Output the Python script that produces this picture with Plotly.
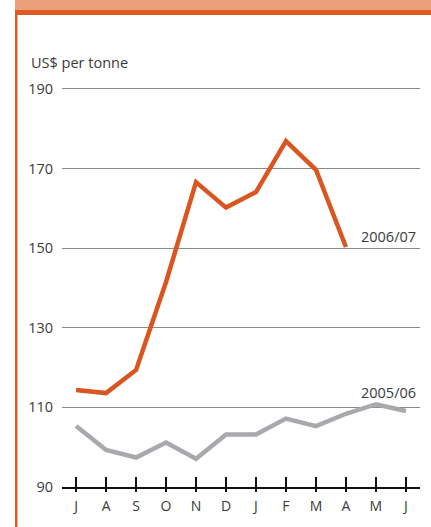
import plotly.graph_objects as go

months = ["J", "A", "S", "O", "N", "D", "J", "F", "M", "A", "M", "J"]
s_2006_07 = [114.4, 113.6, 119.4, 141.5, 166.6, 160.2, 164.1, 176.9, 169.7, 150.3]
s_2005_06 = [105.3, 99.3, 97.4, 101.2, 97.1, 103.2, 103.2, 107.2, 105.3, 108.4, 110.8, 109.1]
y_ticks = [90, 110, 130, 150, 170, 190]

W, H = 431, 527
L, R, T, B = 62, 420, 87, 487   # plot area in px (top includes 2px headroom)

ORANGE = "#DB5520"
GREY = "#A7A9AC"
FONT = "Open Sans"
TXT = "#3a3a3a"

xi_old = list(range(len(s_2005_06)))
xi_new = list(range(len(s_2006_07)))

fig = go.Figure()
fig.add_trace(go.Scatter(x=xi_old, y=s_2005_06, mode="lines",
                         line=dict(color=GREY, width=4.5), hoverinfo="skip"))
fig.add_trace(go.Scatter(x=xi_new, y=s_2006_07, mode="lines",
                         line=dict(color=ORANGE, width=4.5), hoverinfo="skip"))
# invisible trace to activate the overlay axis (inner tick marks)
fig.add_trace(go.Scatter(x=xi_old, y=s_2005_06, xaxis="x2", mode="lines",
                         line=dict(width=0), opacity=0, hoverinfo="skip",
                         showlegend=False))

xr = [-0.47, 11.47]
fig.update_layout(
    width=W, height=H,
    margin=dict(l=0, r=0, t=0, b=0),
    paper_bgcolor="white", plot_bgcolor="white",
    showlegend=False,
    font=dict(family=FONT, size=14, color=TXT),
    xaxis=dict(
        domain=[L / W, R / W], range=xr,
        tickmode="array", tickvals=list(range(12)), ticktext=months,
        ticks="outside", ticklen=3, tickwidth=2, tickcolor="#111111",
        showline=True, linecolor="#111111", linewidth=2,
        showgrid=False, zeroline=False, automargin=False,
        ticklabelstandoff=2,
        tickfont=dict(family=FONT, size=14, color=TXT),
        fixedrange=True,
    ),
    xaxis2=dict(
        overlaying="x", anchor="y", side="bottom", range=xr,
        tickmode="array", tickvals=list(range(12)), showticklabels=False,
        ticks="inside", ticklen=10, tickwidth=2, tickcolor="#111111",
        showline=False, showgrid=False, zeroline=False,
        fixedrange=True,
    ),
    yaxis=dict(
        domain=[(H - B) / H, (H - T) / H], range=[90, 190.5],
        tickmode="array", tickvals=y_ticks,
        showgrid=True, gridcolor="#8a8a8a", gridwidth=1,
        zeroline=False, showline=False, ticks="",
        automargin=False, ticklabelstandoff=8,
        tickfont=dict(family=FONT, size=14.5, color=TXT),
        fixedrange=True,
    ),
    shapes=[
        dict(type="rect", xref="paper", yref="paper",
             x0=15 / W, x1=1.0, y0=(H - 10) / H, y1=1.0,
             fillcolor="#EBA07B", line=dict(width=0), layer="above"),
        dict(type="rect", xref="paper", yref="paper",
             x0=15 / W, x1=1.0, y0=(H - 15) / H, y1=(H - 10) / H,
             fillcolor="#DD5A22", line=dict(width=0), layer="above"),
        dict(type="rect", xref="paper", yref="paper",
             x0=15 / W, x1=17.5 / W, y0=0, y1=(H - 10) / H,
             fillcolor="#DD5A22", line=dict(width=0), layer="above"),
    ],
    annotations=[
        dict(text="US$ per tonne", xref="paper", yref="paper",
             x=29 / W, y=(H - 62) / H, xanchor="left", yanchor="middle",
             showarrow=False, font=dict(family=FONT, size=14.5, color=TXT)),
        dict(text="2006/07", xref="paper", yref="paper",
             x=418 / W, y=(H - 236) / H, xanchor="right", yanchor="middle",
             showarrow=False, font=dict(family=FONT, size=14.5, color=TXT)),
        dict(text="2005/06", xref="paper", yref="paper",
             x=418 / W, y=(H - 392) / H, xanchor="right", yanchor="middle",
             showarrow=False, font=dict(family=FONT, size=14.5, color=TXT)),
    ],
)

fig.write_html(
    "out.html",
    config={"displayModeBar": False},
    post_script="document.body.style.margin='0';document.body.style.overflow='hidden';",
)
